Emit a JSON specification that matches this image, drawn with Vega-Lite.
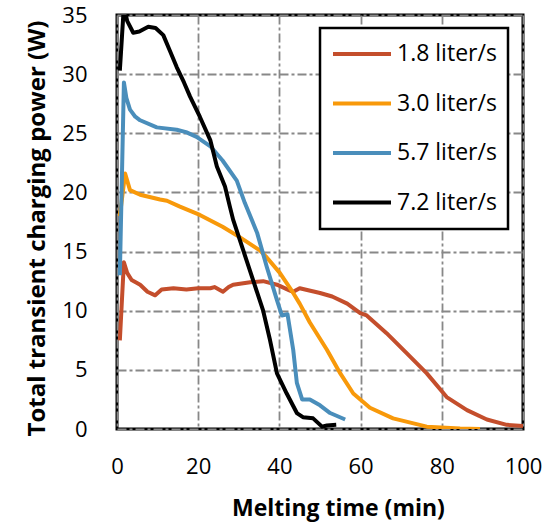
{
  "$schema": "https://vega.github.io/schema/vega-lite/v6.json",
  "width": 406,
  "height": 414,
  "autosize": {"type": "none"},
  "padding": {"left": 117, "top": 15, "right": 28, "bottom": 93},
  "background": "white",
  "config": {
    "view": {"stroke": "black", "strokeWidth": 3},
    "font": "Open Sans",
    "axis": {"labelColor": "black", "titleColor": "black", "domain": false, "ticks": false, "tickSize": 0,
      "gridColor": "#888888", "gridWidth": 1.8, "gridDash": [9, 3, 3, 3], "gridOpacity": 1, "labelFlush": false,
      "labelFontSize": 22, "labelFont": "Open Sans", "titleFont": "Open Sans", "titleFontSize": 23, "titleFontWeight": "bold"},
    "legend": {"strokeColor": "black", "strokeWidth": 2.5, "fillColor": "white"}
  },
  "data": {
    "values": [
      {"flow": "1.8 liter/s", "t": 0.7, "p": 7.5},
      {"flow": "1.8 liter/s", "t": 1.7, "p": 14.1},
      {"flow": "1.8 liter/s", "t": 2.5, "p": 13.2},
      {"flow": "1.8 liter/s", "t": 3.6, "p": 12.6},
      {"flow": "1.8 liter/s", "t": 5.7, "p": 12.2},
      {"flow": "1.8 liter/s", "t": 7.5, "p": 11.6},
      {"flow": "1.8 liter/s", "t": 9.4, "p": 11.3},
      {"flow": "1.8 liter/s", "t": 11, "p": 11.8},
      {"flow": "1.8 liter/s", "t": 13.9, "p": 11.9},
      {"flow": "1.8 liter/s", "t": 17.1, "p": 11.8},
      {"flow": "1.8 liter/s", "t": 20, "p": 11.9},
      {"flow": "1.8 liter/s", "t": 23, "p": 11.9},
      {"flow": "1.8 liter/s", "t": 24, "p": 12.0},
      {"flow": "1.8 liter/s", "t": 26.1, "p": 11.6},
      {"flow": "1.8 liter/s", "t": 27.5, "p": 12.0},
      {"flow": "1.8 liter/s", "t": 28.6, "p": 12.2},
      {"flow": "1.8 liter/s", "t": 32.8, "p": 12.4},
      {"flow": "1.8 liter/s", "t": 36, "p": 12.5},
      {"flow": "1.8 liter/s", "t": 39.4, "p": 12.2},
      {"flow": "1.8 liter/s", "t": 42.6, "p": 11.7},
      {"flow": "1.8 liter/s", "t": 43.4, "p": 11.6},
      {"flow": "1.8 liter/s", "t": 45, "p": 11.9},
      {"flow": "1.8 liter/s", "t": 50, "p": 11.5},
      {"flow": "1.8 liter/s", "t": 53, "p": 11.2},
      {"flow": "1.8 liter/s", "t": 56.7, "p": 10.6},
      {"flow": "1.8 liter/s", "t": 59.9, "p": 9.8},
      {"flow": "1.8 liter/s", "t": 61.5, "p": 9.6},
      {"flow": "1.8 liter/s", "t": 66.4, "p": 8.1},
      {"flow": "1.8 liter/s", "t": 71.4, "p": 6.4},
      {"flow": "1.8 liter/s", "t": 76.3, "p": 4.7},
      {"flow": "1.8 liter/s", "t": 81.2, "p": 2.7},
      {"flow": "1.8 liter/s", "t": 86.2, "p": 1.6},
      {"flow": "1.8 liter/s", "t": 91.1, "p": 0.8},
      {"flow": "1.8 liter/s", "t": 96, "p": 0.35},
      {"flow": "1.8 liter/s", "t": 100, "p": 0.25},

      {"flow": "3.0 liter/s", "t": 0.7, "p": 18},
      {"flow": "3.0 liter/s", "t": 2, "p": 21.6},
      {"flow": "3.0 liter/s", "t": 3.2, "p": 20.2},
      {"flow": "3.0 liter/s", "t": 5.7, "p": 19.8},
      {"flow": "3.0 liter/s", "t": 10.6, "p": 19.4},
      {"flow": "3.0 liter/s", "t": 12.3, "p": 19.3},
      {"flow": "3.0 liter/s", "t": 15.5, "p": 18.8},
      {"flow": "3.0 liter/s", "t": 20.4, "p": 18.1},
      {"flow": "3.0 liter/s", "t": 26, "p": 17.1},
      {"flow": "3.0 liter/s", "t": 30.3, "p": 16.2},
      {"flow": "3.0 liter/s", "t": 35.2, "p": 15.1},
      {"flow": "3.0 liter/s", "t": 36.9, "p": 14.5},
      {"flow": "3.0 liter/s", "t": 40.1, "p": 13.2},
      {"flow": "3.0 liter/s", "t": 43.4, "p": 11.5},
      {"flow": "3.0 liter/s", "t": 45, "p": 10.6},
      {"flow": "3.0 liter/s", "t": 47.5, "p": 9},
      {"flow": "3.0 liter/s", "t": 51.7, "p": 6.7},
      {"flow": "3.0 liter/s", "t": 55, "p": 4.7},
      {"flow": "3.0 liter/s", "t": 58.2, "p": 3.0},
      {"flow": "3.0 liter/s", "t": 62.3, "p": 1.8},
      {"flow": "3.0 liter/s", "t": 68, "p": 0.9},
      {"flow": "3.0 liter/s", "t": 76.3, "p": 0.2},
      {"flow": "3.0 liter/s", "t": 84.5, "p": 0.05},
      {"flow": "3.0 liter/s", "t": 89.4, "p": 0},

      {"flow": "5.7 liter/s", "t": 0.7, "p": 13},
      {"flow": "5.7 liter/s", "t": 1.7, "p": 29.3},
      {"flow": "5.7 liter/s", "t": 2.3, "p": 28},
      {"flow": "5.7 liter/s", "t": 3.2, "p": 27},
      {"flow": "5.7 liter/s", "t": 4.5, "p": 26.4},
      {"flow": "5.7 liter/s", "t": 5.7, "p": 26.1},
      {"flow": "5.7 liter/s", "t": 9.8, "p": 25.5},
      {"flow": "5.7 liter/s", "t": 14.7, "p": 25.3},
      {"flow": "5.7 liter/s", "t": 17, "p": 25.1},
      {"flow": "5.7 liter/s", "t": 19.6, "p": 24.7},
      {"flow": "5.7 liter/s", "t": 23, "p": 23.9},
      {"flow": "5.7 liter/s", "t": 26, "p": 22.7},
      {"flow": "5.7 liter/s", "t": 29.5, "p": 21},
      {"flow": "5.7 liter/s", "t": 31.5, "p": 19.1},
      {"flow": "5.7 liter/s", "t": 34.5, "p": 16.6},
      {"flow": "5.7 liter/s", "t": 36.9, "p": 13.7},
      {"flow": "5.7 liter/s", "t": 39.4, "p": 10.9},
      {"flow": "5.7 liter/s", "t": 40.6, "p": 9.6},
      {"flow": "5.7 liter/s", "t": 42, "p": 9.7},
      {"flow": "5.7 liter/s", "t": 43.4, "p": 6.7},
      {"flow": "5.7 liter/s", "t": 44.3, "p": 3.9},
      {"flow": "5.7 liter/s", "t": 45.6, "p": 2.5},
      {"flow": "5.7 liter/s", "t": 47.5, "p": 2.5},
      {"flow": "5.7 liter/s", "t": 50, "p": 2.0},
      {"flow": "5.7 liter/s", "t": 52.5, "p": 1.35},
      {"flow": "5.7 liter/s", "t": 56.2, "p": 0.8},

      {"flow": "7.2 liter/s", "t": 0.7, "p": 30.3},
      {"flow": "7.2 liter/s", "t": 1.7, "p": 35.8},
      {"flow": "7.2 liter/s", "t": 2.5, "p": 34.5},
      {"flow": "7.2 liter/s", "t": 4, "p": 33.5},
      {"flow": "7.2 liter/s", "t": 5.5, "p": 33.6},
      {"flow": "7.2 liter/s", "t": 7.7, "p": 34.0},
      {"flow": "7.2 liter/s", "t": 9.5, "p": 33.9},
      {"flow": "7.2 liter/s", "t": 11.4, "p": 33.3},
      {"flow": "7.2 liter/s", "t": 13, "p": 32},
      {"flow": "7.2 liter/s", "t": 14.7, "p": 30.6},
      {"flow": "7.2 liter/s", "t": 16.5, "p": 29.3},
      {"flow": "7.2 liter/s", "t": 18, "p": 28.1},
      {"flow": "7.2 liter/s", "t": 20.4, "p": 26.4},
      {"flow": "7.2 liter/s", "t": 23, "p": 24.4},
      {"flow": "7.2 liter/s", "t": 24.6, "p": 22.2},
      {"flow": "7.2 liter/s", "t": 26.6, "p": 20.5},
      {"flow": "7.2 liter/s", "t": 27.8, "p": 18.8},
      {"flow": "7.2 liter/s", "t": 28.6, "p": 17.7},
      {"flow": "7.2 liter/s", "t": 31, "p": 15.2},
      {"flow": "7.2 liter/s", "t": 33.5, "p": 12.6},
      {"flow": "7.2 liter/s", "t": 36, "p": 10},
      {"flow": "7.2 liter/s", "t": 37.7, "p": 7.5},
      {"flow": "7.2 liter/s", "t": 39.4, "p": 4.7},
      {"flow": "7.2 liter/s", "t": 41.8, "p": 3.0},
      {"flow": "7.2 liter/s", "t": 44.3, "p": 1.35},
      {"flow": "7.2 liter/s", "t": 45.8, "p": 1.0},
      {"flow": "7.2 liter/s", "t": 48.3, "p": 0.9},
      {"flow": "7.2 liter/s", "t": 50.5, "p": 0.2},
      {"flow": "7.2 liter/s", "t": 51.7, "p": 0.3},
      {"flow": "7.2 liter/s", "t": 54, "p": 0.35}
    ]
  },
  "mark": {"type": "line", "strokeWidth": 4, "clip": true, "strokeJoin": "round"},
  "encoding": {
    "x": {
      "field": "t", "type": "quantitative",
      "scale": {"domain": [0, 100], "nice": false},
      "axis": {"values": [0, 20, 40, 60, 80, 100], "labelPadding": 37, "labelBaseline": "middle",
        "title": "Melting time (min)", "titleX": 221, "titleY": 79, "titleBaseline": "middle", "titleAlign": "center"}
    },
    "y": {
      "field": "p", "type": "quantitative",
      "scale": {"domain": [0, 35], "nice": false},
      "axis": {"values": [0, 5, 10, 15, 20, 25, 30, 35], "labelPadding": 30,
        "title": "Total transient charging power (W)", "titleFontSize": 24, "titleX": -80, "titleY": 213, "titleAngle": -90,
        "titleBaseline": "middle", "titleAlign": "center"}
    },
    "color": {
      "field": "flow", "type": "nominal",
      "scale": {"domain": ["1.8 liter/s", "3.0 liter/s", "5.7 liter/s", "7.2 liter/s"],
        "range": ["#C44E2C", "#F8990A", "#4A8EBB", "#000000"]},
      "legend": {
        "orient": "none", "legendX": 203, "legendY": 13, "title": null,
        "padding": 11,
        "symbolType": "stroke", "symbolSize": 3364, "symbolStrokeWidth": 4,
        "labelFontSize": 23, "labelFont": "Open Sans", "labelColor": "black", "labelOffset": 4,
        "clipHeight": 30, "rowPadding": 19.5
      }
    }
  }
}
